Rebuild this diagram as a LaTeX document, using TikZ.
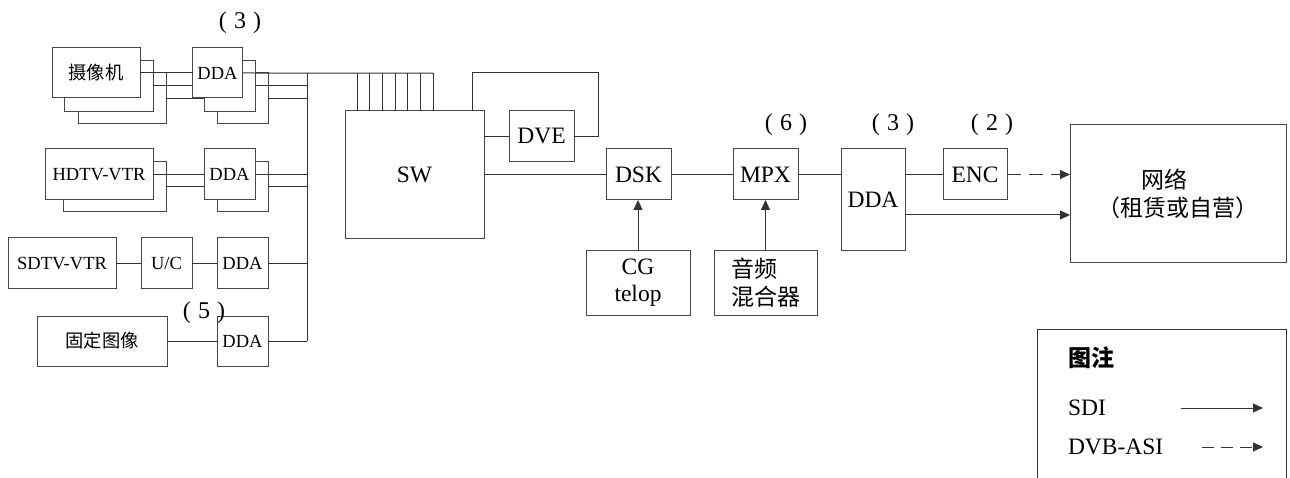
\documentclass[tikz,border=0pt]{standalone}
\usepackage{fontspec}
\setmainfont{Liberation Serif}
\newfontfamily\tms{Liberation Serif}
\newfontfamily\cjk{Noto Sans CJK SC}
\usetikzlibrary{arrows.meta,calc}
\begin{document}
\begin{tikzpicture}[x=1pt,y=-1pt,
  every node/.style={inner sep=0pt,outer sep=0pt},
  box/.style={draw=black!72,line width=1pt,fill=white},
  sm/.style={font=\tms\fontsize{18.5}{21}\selectfont},
  bg/.style={font=\tms\fontsize{23.5}{27}\selectfont},
  cj/.style={font=\cjk\fontsize{18.3}{21}\selectfont},
  cjb/.style={font=\cjk\fontsize{23}{28}\selectfont},
  lab/.style={font=\tms\fontsize{24}{26}\selectfont},
  ln/.style={draw=black!80,line width=1pt},
  arr/.style={ln,-{Triangle[length=10pt,width=9pt]}},
  darr/.style={arr,dash pattern=on 14pt off 8pt}
]
\useasboundingbox (0,0) rectangle (1290,478);
\coordinate (bus) at (307,73);
% ---- camera stack ----
\node[box,minimum width=88,minimum height=51] (cam3) at (122,98.4) {};
\node[box,minimum width=51,minimum height=51] (ddac3) at (242.5,98.4) {};
\draw[ln] (cam3.east) -- (ddac3.west);
\draw[ln] (ddac3.east) -- (ddac3.east -| bus);
\node[box,minimum width=89,minimum height=51] (cam2) at (108.5,85.7) {};
\node[box,minimum width=51,minimum height=51] (ddac2) at (229.5,85.7) {};
\draw[ln] (cam2.east) -- (ddac2.west);
\draw[ln] (ddac2.east) -- (ddac2.east -| bus);
\node[box,cj,minimum width=88,minimum height=50] (cam1) at (96,73) {摄像机};
\node[box,sm,minimum width=50,minimum height=50] (ddac1) at (217.5,73) {DDA};
\draw[ln] (cam1.east) -- (ddac1.west);
% ---- HDTV stack ----
\node[box,minimum width=103,minimum height=50] (hd2) at (114.5,187) {};
\node[box,minimum width=51,minimum height=50] (hdda2) at (242.5,187) {};
\draw[ln] (hd2.east) -- (hdda2.west);
\draw[ln] (hdda2.east) -- (hdda2.east -| bus);
\node[box,sm,minimum width=108,minimum height=51] (hd1) at (99,174.5) {HDTV-VTR};
\node[box,sm,minimum width=51,minimum height=51] (hdda1) at (229.5,174.5) {DDA};
\draw[ln] (hd1.east) -- (hdda1.west);
\draw[ln] (hdda1.east) -- (hdda1.east -| bus);
% ---- SDTV ----
\node[box,sm,minimum width=108,minimum height=51] (sdtv) at (62,263.5) {SDTV-VTR};
\node[box,sm,minimum width=51,minimum height=51] (uc) at (166.5,263.5) {U/C};
\node[box,sm,minimum width=51,minimum height=51] (sdda) at (242.5,263.5) {DDA};
\draw[ln] (sdtv) -- (uc);
\draw[ln] (uc) -- (sdda);
\draw[ln] (sdda.east) -- (sdda.east -| bus);
% ---- still image ----
\node[box,cj,minimum width=130,minimum height=50] (fix) at (102,341) {固定图像};
\node[box,sm,minimum width=51,minimum height=50] (fdda) at (242.5,341) {DDA};
\draw[ln] (fix) -- (fdda);
\draw[ln] (fdda.east) -- (fdda.east -| bus);
\node[lab] (l5) at (204,313) {(\hspace{0.3em}5\hspace{0.3em})};
% ---- SW ----
\node[box,bg,minimum width=139,minimum height=127.3] (sw) at (414.5,174.4) {SW};
\coordinate (topend) at ($(sw.north west)+(88.2,-37.7)$);
\draw[ln] (ddac1.east) -- (topend);
\draw[ln] (bus) -- (bus |- fdda);
\foreach \i in {0,...,6}
  \draw[ln] ($(sw.north west)+(12+12.7*\i,0)$) -- ++(0,-37.7);
\node[lab] (l3a) at (240,23) {(\hspace{0.3em}3\hspace{0.3em})};
% ---- DVE ----
\node[box,bg,minimum width=65,minimum height=51] (dve) at (541.5,136.4) {DVE};
\draw[ln] (sw.east |- dve) -- (dve.west);
\coordinate (loopc) at (598,72.7);
\draw[ln] (dve.east) -| (loopc) -| ($(sw.north west)+(127,0)$);
% ---- DSK / MPX ----
\node[box,bg,minimum width=65,minimum height=51] (dsk) at (638.5,174.5) {DSK};
\node[box,bg,minimum width=65,minimum height=51] (mpx) at (765.5,174.5) {MPX};
\draw[ln] (sw.east |- dsk) -- (dsk.west);
\draw[ln] (dsk) -- (mpx);
\node[box,bg,align=center,minimum width=104,minimum height=64] (cg) at (638,283) {CG\\telop};
\node[box,cjb,align=left,minimum width=103,minimum height=64] (aud) at (765.5,283) {音频\\混合器};
\draw[arr] (cg.north) -- (cg.north |- dsk.south);
\draw[arr] (aud.north) -- (aud.north |- mpx.south);
\node[lab] (l6) at (786,125) {(\hspace{0.3em}6\hspace{0.3em})};
% ---- DDA / ENC / network ----
\node[box,bg,minimum width=64,minimum height=102] (dda4) at (873,200) {DDA};
\node[box,bg,minimum width=64,minimum height=51] (enc) at (975,174.5) {ENC};
\node[box,cjb,align=center,minimum width=216,minimum height=138] (net) at (1178,194) {网络\hspace*{1.2em}\\（租赁或自营）};
\draw[ln] (mpx.east) -- (mpx.east -| dda4.west);
\draw[ln] (enc.west -| dda4.east) -- (enc.west);
\draw[darr] (enc.east) -- (enc.east -| net.west);
\coordinate (d4o) at ($(dda4.east)+(0,15)$);
\draw[arr] (d4o) -- (d4o -| net.west);
\node[lab] (l3b) at (893,125) {(\hspace{0.3em}3\hspace{0.3em})};
\node[lab] (l2) at (992,125) {(\hspace{0.3em}2\hspace{0.3em})};
% ---- legend ----
\draw[ln] (1037,478) |- (1286,329) -- (1286,478);
\node[anchor=west,font=\cjk\bfseries\fontsize{23}{28}\selectfont] (lgt) at (1068,358) {图注};
\node[bg,anchor=west] (lsdi) at (1068,408) {SDI};
\node[bg,anchor=west] (lasi) at (1068,447) {DVB-ASI};
\coordinate (s1) at (1181,408);
\coordinate (s2) at (1263,408);
\coordinate (a1) at (1202,447);
\coordinate (a2) at (1263,447);
\draw[arr] (s1) -- (s2);
\draw[arr,dash pattern=on 12pt off 7pt] (a1) -- (a2);
\end{tikzpicture}
\end{document}
